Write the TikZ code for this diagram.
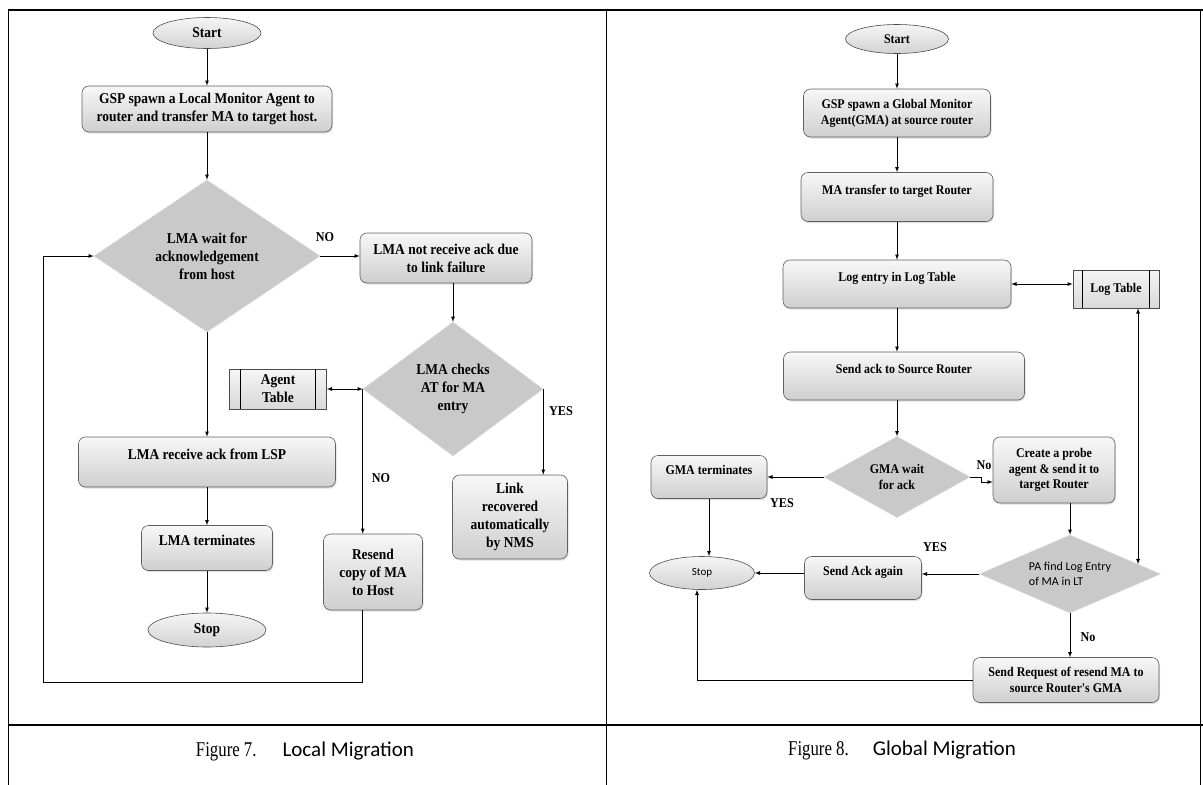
\documentclass[tikz,border=0pt]{standalone}
\usepackage{fontspec}
\setmainfont{Liberation Serif}
\newfontfamily\boxfont[FakeStretch=0.9]{Liberation Serif}
\newfontfamily\capserif[FakeStretch=0.8]{Liberation Serif}
\newfontfamily\calfont{Carlito}
\usetikzlibrary{arrows}
\usetikzlibrary{calc}
\usetikzlibrary{shapes.geometric}
\usetikzlibrary{shadows}

\begin{document}
\begin{tikzpicture}[x=1pt,y=-1pt,>=latex,line width=0.8pt,
    box/.style={rectangle,rounded corners=7pt,draw=gray!75!black,line width=0.6pt,
      top color=gray!6,bottom color=gray!38,align=center,inner sep=3pt,
      drop shadow={shadow xshift=1pt,shadow yshift=-1.5pt,opacity=0.25}},
    decision/.style={diamond,fill=gray!42,draw=gray!30,line width=0.5pt,align=center,inner sep=0pt},
    terminal/.style={ellipse,draw=gray!60!black,line width=0.6pt,top color=gray!8,bottom color=gray!35,inner sep=0pt},
    store/.style={rectangle,draw=gray!60!black,line width=0.6pt,top color=gray!8,bottom color=gray!30,align=center,inner sep=0pt},
    lfont/.style={font=\boxfont\bfseries\fontsize{15}{18}\selectfont},
    rfont/.style={font=\boxfont\bfseries\fontsize{13.3}{15.7}\selectfont},
    lbl/.style={font=\boxfont\bfseries\fontsize{13.5}{15}\selectfont},
    upper/.style={text depth=15pt}]
    \useasboundingbox (0,0) rectangle (1203,785);

    \draw[line width=1.3pt] (8,10) -- (1203,10);
    \draw[line width=1pt] (8,10) -- (8,785);
    \draw[line width=1pt] (606,10) -- (606,785);
    \draw[line width=1pt] (1200,10) -- (1200,785);
    \draw[line width=1.2pt] (8,725) -- (1203,725);

    \node[terminal,lfont,minimum width=108pt,minimum height=31pt] (start1) at (207,33) {Start};
    \node[box,lfont,minimum width=250pt,minimum height=46pt] (gsp1) at (207,109) {GSP spawn a Local Monitor Agent to\\router and transfer MA to target host.};
    \node[decision,lfont,minimum width=226pt,minimum height=152pt,aspect=1.48] (wait1) at (207,256) {LMA wait for\\acknowledgement\\from host};
    \node[box,lfont,minimum width=172pt,minimum height=50pt] (noack) at (446,258) {LMA not receive ack due\\to link failure};
    \node[decision,lfont,minimum width=180pt,minimum height=134pt,aspect=1.34] (check) at (453,389) {LMA checks\\AT for MA\\entry};
    \node[store,lfont,minimum width=97pt,minimum height=40pt] (agtab) at (278,389) {Agent\\Table};
    \node[box,lfont,minimum width=99pt,minimum height=76pt] (resend) at (373,572) {Resend\\copy of MA\\to Host};
    \node[box,lfont,minimum width=115pt,minimum height=84pt] (link) at (510,517) {Link\\recovered\\automatically\\by NMS};
    \node[box,lfont,upper,minimum width=257pt,minimum height=50pt] (recv) at (207,462) {LMA receive ack from LSP};
    \node[box,lfont,upper,minimum width=131pt,minimum height=45pt] (term1) at (207,548) {LMA terminates};
    \node[terminal,lfont,minimum width=118pt,minimum height=34pt] (stop1) at (207,630) {Stop};

    \draw ([xshift=11pt]agtab.north west) -- ([xshift=11pt]agtab.south west);
    \draw ([xshift=-11pt]agtab.north east) -- ([xshift=-11pt]agtab.south east);

    \node[lbl] (lno1) at (325,237) {NO};
    \node[lbl] (lno2) at (381,478) {NO};
    \node[lbl] (lyes1) at (561,411) {YES};

    \path[->] (start1) edge (gsp1);
    \path[->] (gsp1) edge (wait1);
    \path[->] (wait1.east) edge (wait1.east -| noack.west);
    \path[->] (noack.south -| check.north) edge (check.north);
    \path[<->] (check.west) edge (agtab.east);
    \path[->] (check.west) edge (check.west |- resend.north);
    \path[->] (check.east) edge (check.east |- link.north);
    \path[->] (wait1) edge (recv);
    \path[->] (recv) edge (term1);
    \path[->] (term1) edge (stop1);
    \coordinate (loop1) at (43,682);
    \draw[->] (check.west |- resend.south) |- (loop1) |- (wait1.west);

    \node[terminal,rfont,minimum width=103pt,minimum height=29pt] (start2) at (897,39) {Start};
    \node[box,rfont,minimum width=187pt,minimum height=48pt] (gsp2) at (897,113) {GSP spawn a Global Monitor\\Agent(GMA) at source router};
    \node[box,rfont,upper,minimum width=192pt,minimum height=49pt] (trans) at (897,197) {MA transfer to target Router};
    \node[box,rfont,upper,minimum width=228pt,minimum height=48pt] (logent) at (897,284) {Log entry in Log Table};
    \node[store,rfont,minimum width=86pt,minimum height=38pt] (logtab) at (1116,289) {Log Table};
    \node[box,rfont,upper,minimum width=241pt,minimum height=48pt] (sendack) at (904,376) {Send ack to Source Router};
    \node[decision,rfont,minimum width=146pt,minimum height=81pt,aspect=1.8] (gwait) at (897,477) {GMA wait\\for ack};
    \node[box,rfont,upper,minimum width=116pt,minimum height=43pt] (gterm) at (709,477) {GMA terminates};
    \node[box,rfont,minimum width=122pt,minimum height=66pt] (probe) at (1054,470) {Create a probe\\agent \& send it to\\target Router};
    \node[decision,font=\calfont\fontsize{12}{15}\selectfont,align=left,minimum width=181pt,minimum height=78pt,aspect=2.3] (pafind) at (1070,574) {PA find Log Entry\\of MA in LT};
    \node[box,rfont,upper,minimum width=117pt,minimum height=43pt] (again) at (863,578) {Send Ack again};
    \node[terminal,font=\calfont\fontsize{11}{13}\selectfont,minimum width=105pt,minimum height=33pt] (stop2) at (702,573) {Stop};
    \node[box,rfont,minimum width=186pt,minimum height=45pt] (req) at (1066,680) {Send Request of resend MA to\\source Router's GMA};

    \draw ([xshift=10pt]logtab.north west) -- ([xshift=10pt]logtab.south west);
    \draw ([xshift=-10pt]logtab.north east) -- ([xshift=-10pt]logtab.south east);

    \node[lbl] (ryes1) at (782,503) {YES};
    \node[lbl] (rno1) at (984,465) {No};
    \node[lbl] (ryes2) at (935,547) {YES};
    \node[lbl] (rno2) at (1088,637) {No};

    \path[->] (start2) edge (gsp2);
    \path[->] (gsp2) edge (trans);
    \path[->] (trans) edge (logent);
    \path[<->] (logent.east) edge (logent.east -| logtab.west);
    \path[->] (logent.south) edge (logent.south |- sendack.north);
    \path[->] (gwait.north |- sendack.south) edge (gwait.north);
    \path[->] (gwait) edge (gterm);
    \draw[->] (gwait.east) -- ++(11,0) |- ([yshift=-12pt]probe.west);
    \path[->] (probe.south -| pafind.north) edge (pafind.north);
    \coordinate (paedge) at ($(pafind.north)!0.75!(pafind.east)$);
    \path[<->] (paedge |- logtab.south) edge (paedge);
    \path[->] (pafind.west) edge (pafind.west -| again.east);
    \path[->] (stop2.east -| again.west) edge (stop2.east);
    \path[->] (gterm.south) edge (gterm.south |- stop2.north);
    \path[->] (pafind.south) edge (pafind.south |- req.north);
    \draw[->] (req.west) -| ([xshift=-5pt]stop2.south);

    \node (cap7) at (305,751) {\capserif\fontsize{21}{24}\selectfont Figure 7.\hspace{26pt}{\calfont\fontsize{21}{24}\selectfont Local Migration}};
    \node (cap8) at (902,750) {\capserif\fontsize{21}{24}\selectfont Figure 8.\hspace{24pt}{\calfont\fontsize{21}{24}\selectfont Global Migration}};
  \end{tikzpicture}
\end{document}
